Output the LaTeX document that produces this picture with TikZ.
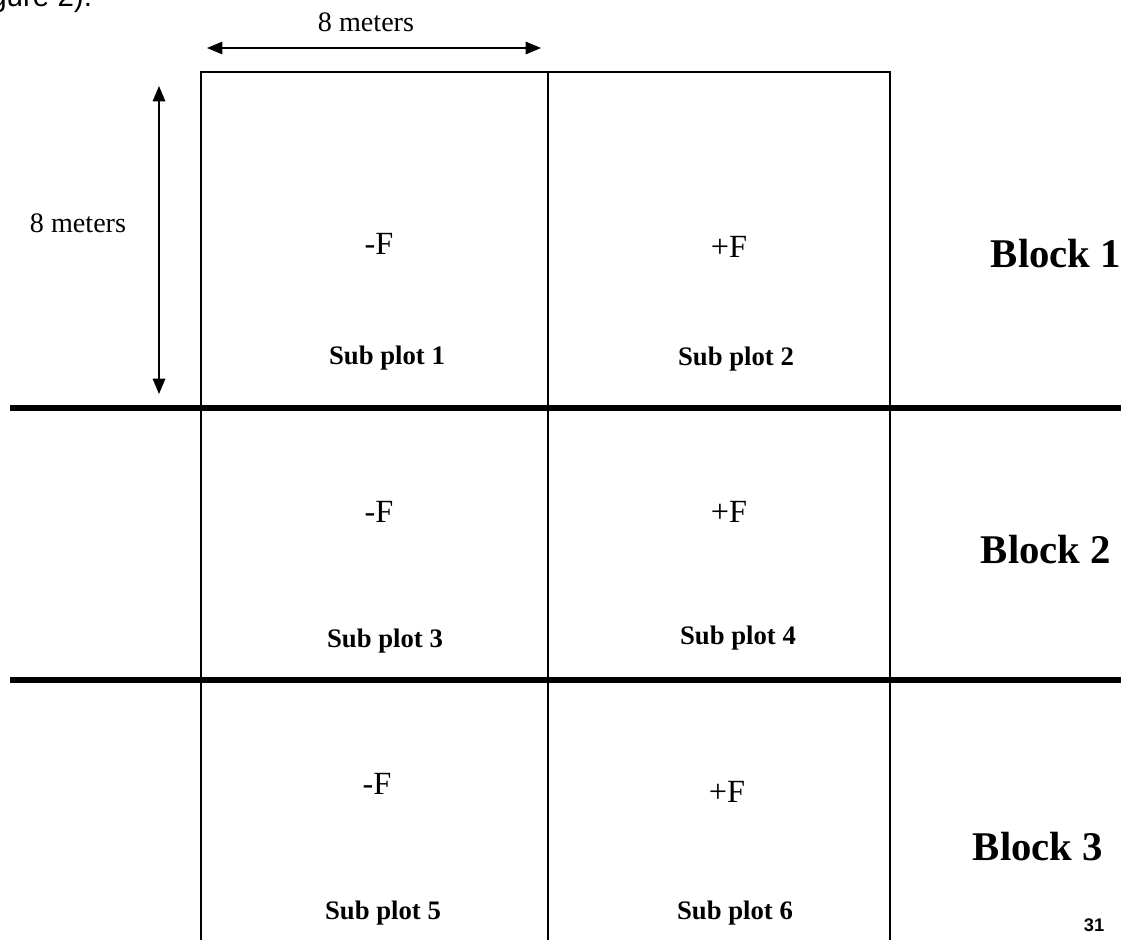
\documentclass[tikz,border=0pt]{standalone}
\usepackage{fontspec}
\setmainfont{Liberation Serif}
\newfontfamily\arialfont{Liberation Sans}
\usetikzlibrary{arrows.meta,positioning}

\begin{document}
\begin{tikzpicture}[x=0.025cm, y=-0.025cm,
    thin line/.style={line width=1.3pt},
    thick line/.style={line width=3.6pt},
    dim/.style={{Triangle[length=11pt,width=9pt]}-{Triangle[length=11pt,width=9pt]}, line width=0.9pt},
    dimlabel/.style={anchor=base, inner sep=0pt, font=\fontsize{20}{24}\selectfont},
    treat/.style={anchor=base, inner sep=0pt, font=\fontsize{23}{27}\selectfont},
    subplot/.style={anchor=base, inner sep=0pt, font=\fontsize{19}{23}\selectfont\bfseries},
    blocklabel/.style={anchor=base, inner sep=0pt, font=\fontsize{29}{34}\selectfont\bfseries}
]
\useasboundingbox (0,0) rectangle (1126,940);

% Plot grid
\coordinate (tl) at (201,72);
\coordinate (tm) at (548,72);
\coordinate (tr) at (890,72);
\coordinate (bl) at (201,940);
\coordinate (bm) at (548,940);
\coordinate (br) at (890,940);
\draw[thin line] (bl) -- (tl) -- (tr) -- (br);
\draw[thin line] (tm) -- (bm);

% Block borders
\coordinate (b1w) at (10,408);
\coordinate (b1e) at (1121,408);
\coordinate (b2w) at (10,680);
\coordinate (b2e) at (1121,680);
\draw[thick line] (b1w) -- (b1e);
\draw[thick line] (b2w) -- (b2e);

% Dimensions
\coordinate (hw) at (207,48);
\coordinate (he) at (541,48);
\coordinate (vn) at (159,86);
\coordinate (vs) at (159,394);
\draw[dim] (hw) -- (he);
\draw[dim] (vn) -- (vs);
\node[dimlabel] (width) at (366,31) {8 meters};
\node[dimlabel] (height) at (78,232) {8 meters};

% Treatments
\node[treat] (f1) at (379,254) {-F};
\node[treat] (f2) at (729,257) {+F};
\node[treat] (f3) at (379,522) {-F};
\node[treat] (f4) at (729,522) {+F};
\node[treat] (f5) at (377,794) {-F};
\node[treat] (f6) at (727,802) {+F};

% Sub plots
\node[subplot] (s1) at (387,364) {Sub plot 1};
\node[subplot] (s2) at (736,365) {Sub plot 2};
\node[subplot] (s3) at (385,647) {Sub plot 3};
\node[subplot] (s4) at (738,644) {Sub plot 4};
\node[subplot] (s5) at (383,919) {Sub plot 5};
\node[subplot] (s6) at (735,919) {Sub plot 6};

% Blocks
\node[blocklabel] (blk1) at (1056,267) {Block 1};
\node[blocklabel] (blk2) at (1046,563) {Block 2};
\node[blocklabel] (blk3) at (1038,860) {Block 3};

% Page
\node[anchor=base, inner sep=0pt, font=\arialfont\fontsize{13}{15}\selectfont\bfseries] (page) at (1094,931) {31};
\node[anchor=base west, inner sep=0pt, font=\arialfont\fontsize{21}{25}\selectfont] (ref) at (-10,7) {gure 2).};

\end{tikzpicture}
\end{document}
